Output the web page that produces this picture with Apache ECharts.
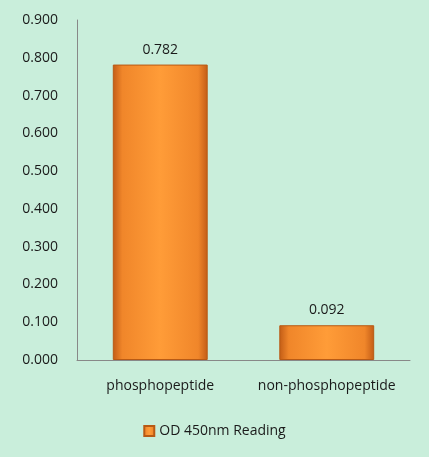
<!DOCTYPE html>
<html><head><meta charset="utf-8">
<script src="https://cdn.jsdelivr.net/npm/echarts@6/dist/echarts.min.js"></script>
<style>html,body{margin:0;padding:0;background:#c9eedb;}#c{width:429px;height:457px;}</style>
</head><body><div id="c"></div>
<script>
var categories = ['phosphopeptide', 'non-phosphopeptide'];
var values = [0.782, 0.092];
var seriesName = 'OD 450nm Reading';
var yTicks = {min: 0, max: 0.9, interval: 0.1};

var chart = echarts.init(document.getElementById('c'));
var barColor = new echarts.graphic.LinearGradient(0, 0, 1, 0, [
  {offset: 0, color: '#c25c16'},
  {offset: 0.1, color: '#f0862a'},
  {offset: 0.5, color: '#ff9c38'},
  {offset: 0.9, color: '#f0862a'},
  {offset: 1, color: '#c25c16'}
]);
chart.setOption({
  backgroundColor: '#c9eedb',
  textStyle: {fontFamily: 'Open Sans'},
  grid: {left: 77, right: 19, top: 20, bottom: 97},
  legend: {
    bottom: 14, left: 'center', itemWidth: 10, itemHeight: 10, icon: 'rect', itemGap: 4,
    textStyle: {fontSize: 14, color: '#1a1a1a', fontFamily: 'Open Sans'},
    data: [seriesName]
  },
  xAxis: {
    type: 'category', data: categories,
    axisLine: {lineStyle: {color: '#888', width: 1}},
    axisTick: {show: false},
    axisLabel: {color: '#1a1a1a', fontSize: 14, margin: 19, interval: 0, hideOverlap: false}
  },
  yAxis: {
    type: 'value', min: yTicks.min, max: yTicks.max, interval: yTicks.interval,
    axisLine: {show: true, lineStyle: {color: '#888', width: 1}},
    axisTick: {show: false},
    splitLine: {show: false},
    axisLabel: {color: '#1a1a1a', fontSize: 14, margin: 19, formatter: function(v){return v.toFixed(3);}}
  },
  series: [{
    name: seriesName, type: 'bar', data: values, barWidth: '57%',
    itemStyle: {color: barColor, borderColor: '#b85a14', borderWidth: 1},
    label: {show: true, position: 'top', distance: 8, color: '#1a1a1a', fontSize: 14,
      formatter: function(p){return p.value.toFixed(3);}}
  }]
});
</script></body></html>
